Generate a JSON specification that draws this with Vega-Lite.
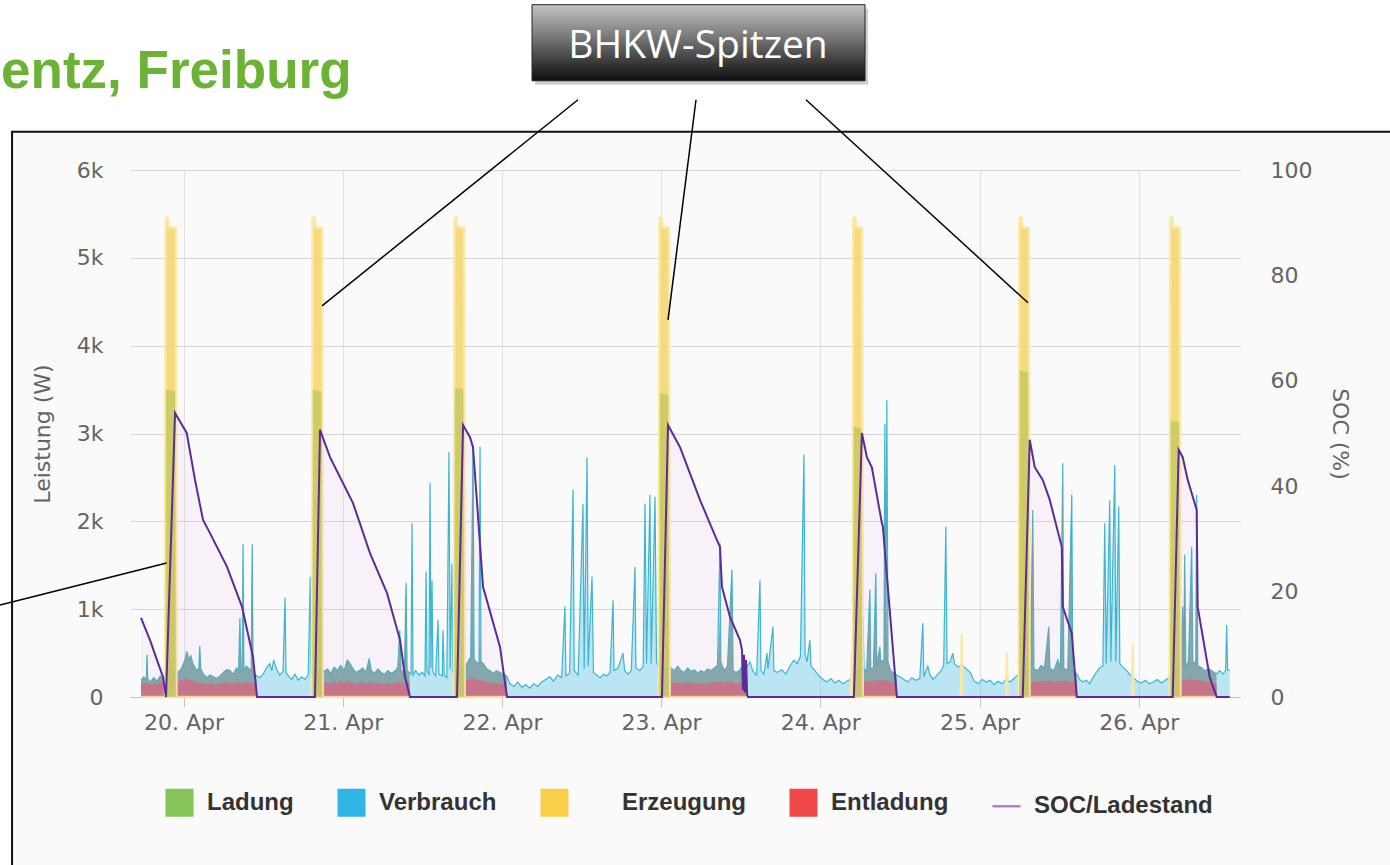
{
"$schema": "https://vega.github.io/schema/vega-lite/v6.json",
"width": 1110,
"height": 527,
"autosize": {"type": "none"},
"padding": {"left": 130, "top": 170, "right": 150, "bottom": 168},
"background": "white",
"config": {"view": {"stroke": null}, "font": "DejaVu Sans"},
"datasets": {
"verb": [
{"h":-6.41,"v":190},{"h":-6.0,"v":230},{"h":-5.6,"v":200},{"h":-5.5,"v":480},{"h":-5.4,"v":210},{"h":-5.0,"v":170},{"h":-4.5,"v":220},{"h":-4.0,"v":180},{"h":-3.5,"v":240},{"h":-3.0,"v":200},{"h":-2.8,"v":260},{"h":-2.5,"v":300},{"h":-2.0,"v":320},{"h":-1.5,"v":280},{"h":-1.1,"v":300},
{"h":-0.8,"v":280},{"h":-0.3,"v":330},{"h":0.2,"v":420},{"h":0.5,"v":520},{"h":0.8,"v":430},{"h":1.1,"v":470},{"h":1.4,"v":380},{"h":1.7,"v":340},{"h":2.0,"v":300},{"h":2.3,"v":330},{"h":2.45,"v":580},{"h":2.6,"v":320},{"h":3.0,"v":260},{"h":3.5,"v":220},{"h":4.0,"v":250},{"h":4.5,"v":230},{"h":5.0,"v":210},{"h":5.5,"v":240},{"h":6.0,"v":280},{"h":6.5,"v":310},{"h":7.0,"v":300},{"h":7.5,"v":260},{"h":8.0,"v":330},{"h":8.3,"v":290},{"h":8.5,"v":900},{"h":8.65,"v":300},{"h":8.85,"v":280},{"h":8.97,"v":1740},{"h":9.1,"v":320},{"h":9.5,"v":350},{"h":10.2,"v":300},{"h":10.35,"v":1740},{"h":10.5,"v":280},{"h":10.8,"v":250},{"h":11.1,"v":240},
{"h":11.5,"v":220},{"h":12.0,"v":260},{"h":12.5,"v":330},{"h":13.0,"v":380},{"h":13.3,"v":300},{"h":13.6,"v":420},{"h":14.0,"v":320},{"h":14.5,"v":250},{"h":15.0,"v":290},{"h":15.3,"v":1130},{"h":15.45,"v":280},{"h":15.8,"v":240},{"h":16.3,"v":200},{"h":16.8,"v":260},{"h":17.3,"v":190},{"h":17.8,"v":230},{"h":18.3,"v":200},{"h":18.8,"v":250},{"h":19.1,"v":1370},{"h":19.25,"v":260},{"h":19.5,"v":300},{"h":19.8,"v":320},{"h":20.3,"v":300},{"h":20.8,"v":310},
{"h":21.2,"v":290},{"h":21.7,"v":320},{"h":22.2,"v":270},{"h":22.7,"v":340},{"h":23.2,"v":300},{"h":23.7,"v":360},{"h":24.2,"v":300},{"h":24.7,"v":420},{"h":25.1,"v":380},{"h":25.5,"v":330},{"h":26.0,"v":280},{"h":26.5,"v":300},{"h":27.0,"v":330},{"h":27.5,"v":280},{"h":28.0,"v":440},{"h":28.3,"v":300},{"h":28.8,"v":270},{"h":29.3,"v":320},{"h":29.8,"v":280},{"h":30.3,"v":260},{"h":30.8,"v":300},{"h":31.3,"v":270},{"h":31.8,"v":290},{"h":32.3,"v":330},{"h":32.6,"v":760},{"h":32.8,"v":300},{"h":33.3,"v":280},{"h":33.55,"v":1300},{"h":33.7,"v":300},{"h":34.0,"v":280},{"h":34.3,"v":260},{"h":34.45,"v":1980},{"h":34.6,"v":250},
{"h":35.0,"v":300},{"h":35.5,"v":250},{"h":36.0,"v":280},{"h":36.4,"v":240},{"h":36.56,"v":1430},{"h":36.7,"v":300},{"h":37.0,"v":260},{"h":37.16,"v":2440},{"h":37.3,"v":330},{"h":37.46,"v":1330},{"h":37.6,"v":280},{"h":38.0,"v":240},{"h":38.37,"v":880},{"h":38.5,"v":260},{"h":39.0,"v":240},{"h":39.12,"v":760},{"h":39.3,"v":250},{"h":39.7,"v":220},{"h":40.02,"v":2790},{"h":40.2,"v":320},{"h":40.47,"v":1520},{"h":40.6,"v":280},{"h":40.9,"v":300},{"h":41.3,"v":320},{"h":41.8,"v":330},{"h":42.2,"v":300},
{"h":42.6,"v":350},{"h":43.0,"v":420},{"h":43.3,"v":450},{"h":43.64,"v":2870},{"h":43.8,"v":430},{"h":44.1,"v":400},{"h":44.55,"v":380},{"h":44.7,"v":2850},{"h":44.85,"v":400},{"h":45.2,"v":380},{"h":45.7,"v":320},{"h":46.2,"v":300},{"h":46.7,"v":270},{"h":47.2,"v":300},{"h":47.7,"v":280},{"h":48.2,"v":260},{"h":48.7,"v":240},
{"h":49.2,"v":150},{"h":49.8,"v":120},{"h":50.4,"v":170},{"h":51.0,"v":110},{"h":51.6,"v":140},{"h":52.2,"v":100},{"h":52.8,"v":150},{"h":53.4,"v":120},{"h":54.0,"v":170},{"h":54.6,"v":200},{"h":55.2,"v":230},{"h":55.8,"v":180},{"h":56.4,"v":250},{"h":57.0,"v":220},{"h":57.5,"v":1030},{"h":57.65,"v":240},{"h":58.2,"v":270},{"h":58.72,"v":2360},{"h":58.9,"v":300},{"h":59.5,"v":250},{"h":60.22,"v":2200},{"h":60.4,"v":320},{"h":60.83,"v":2730},{"h":61.0,"v":350},{"h":61.58,"v":1370},{"h":61.8,"v":280},{"h":62.3,"v":250},{"h":62.8,"v":220},{"h":63.3,"v":260},{"h":63.8,"v":240},{"h":64.3,"v":280},{"h":64.75,"v":1100},{"h":64.9,"v":300},{"h":65.5,"v":330},{"h":66.25,"v":500},{"h":66.5,"v":300},{"h":67.0,"v":260},{"h":67.5,"v":300},{"h":68.06,"v":1480},{"h":68.2,"v":330},{"h":68.8,"v":300},{"h":69.3,"v":350},{"h":69.57,"v":2200},{"h":69.8,"v":380},{"h":70.32,"v":2300},{"h":70.5,"v":380},{"h":71.08,"v":2280},{"h":71.3,"v":400},{"h":71.6,"v":350},{"h":71.9,"v":320},{"h":72.3,"v":330},{"h":72.8,"v":320},
{"h":73.5,"v":330},{"h":74.0,"v":300},{"h":74.5,"v":350},{"h":75.0,"v":300},{"h":75.5,"v":280},{"h":76.0,"v":330},{"h":76.5,"v":290},{"h":77.0,"v":310},{"h":77.5,"v":270},{"h":78.0,"v":300},{"h":78.5,"v":280},{"h":79.0,"v":320},{"h":79.5,"v":300},{"h":80.0,"v":330},{"h":80.5,"v":360},{"h":80.87,"v":1750},{"h":81.0,"v":400},{"h":81.5,"v":300},{"h":82.0,"v":350},{"h":82.68,"v":1450},{"h":82.85,"v":300},{"h":83.3,"v":280},{"h":83.8,"v":300},{"h":84.2,"v":350},{"h":84.6,"v":380},{"h":85.0,"v":350},
{"h":85.4,"v":400},{"h":85.8,"v":300},{"h":86.4,"v":250},{"h":86.9,"v":1330},{"h":87.05,"v":300},{"h":87.5,"v":260},{"h":87.96,"v":500},{"h":88.1,"v":320},{"h":88.86,"v":800},{"h":89.0,"v":300},{"h":89.5,"v":280},{"h":90.2,"v":310},{"h":90.8,"v":260},{"h":91.4,"v":350},{"h":92.0,"v":420},{"h":92.5,"v":380},{"h":93.0,"v":460},{"h":93.53,"v":2760},{"h":93.7,"v":480},{"h":94.0,"v":400},{"h":94.43,"v":650},{"h":94.6,"v":350},{"h":95.2,"v":300},{"h":95.8,"v":240},{"h":96.4,"v":200},{"h":97.0,"v":170},{"h":97.6,"v":210},{"h":98.2,"v":160},{"h":98.8,"v":190},{"h":99.4,"v":150},{"h":100.0,"v":180},{"h":100.5,"v":200},{"h":101.0,"v":260},{"h":101.5,"v":300},{"h":102.0,"v":300},
{"h":102.42,"v":910},{"h":102.6,"v":300},{"h":103.0,"v":320},{"h":103.47,"v":1220},{"h":103.6,"v":320},{"h":104.0,"v":330},{"h":104.37,"v":1410},{"h":104.5,"v":350},{"h":104.98,"v":570},{"h":105.1,"v":400},{"h":105.6,"v":420},{"h":105.73,"v":3110},{"h":105.85,"v":500},{"h":106.03,"v":3380},{"h":106.2,"v":400},{"h":106.6,"v":300},{"h":107.0,"v":280},{"h":107.5,"v":250},
{"h":108.0,"v":230},{"h":108.6,"v":200},{"h":109.2,"v":170},{"h":109.8,"v":220},{"h":110.4,"v":190},{"h":111.0,"v":210},{"h":111.45,"v":840},{"h":111.6,"v":230},{"h":112.2,"v":350},{"h":112.5,"v":260},{"h":113.0,"v":200},{"h":113.6,"v":250},{"h":114.2,"v":300},{"h":114.6,"v":360},{"h":114.92,"v":1940},{"h":115.1,"v":380},{"h":115.6,"v":400},{"h":115.97,"v":500},{"h":116.2,"v":380},{"h":116.8,"v":340},{"h":117.4,"v":360},{"h":118.0,"v":320},{"h":118.6,"v":280},{"h":119.2,"v":180},{"h":119.8,"v":150},{"h":120.4,"v":200},{"h":121.0,"v":170},{"h":121.6,"v":190},{"h":122.2,"v":140},{"h":122.8,"v":180},{"h":123.4,"v":150},{"h":124.0,"v":200},{"h":124.6,"v":170},{"h":125.2,"v":210},{"h":125.8,"v":250},{"h":126.5,"v":300},{"h":127.0,"v":300},
{"h":127.7,"v":300},{"h":128.03,"v":2130},{"h":128.2,"v":320},{"h":128.8,"v":300},{"h":129.3,"v":360},{"h":129.8,"v":330},{"h":130.44,"v":800},{"h":130.6,"v":330},{"h":131.2,"v":300},{"h":131.8,"v":420},{"h":132.2,"v":330},{"h":132.55,"v":2660},{"h":132.7,"v":330},{"h":133.3,"v":300},{"h":133.91,"v":2300},{"h":134.05,"v":300},{"h":134.4,"v":280},{"h":134.7,"v":260},
{"h":135.1,"v":200},{"h":135.6,"v":170},{"h":136.1,"v":190},{"h":136.6,"v":150},{"h":137.1,"v":220},{"h":137.6,"v":280},{"h":138.1,"v":330},{"h":138.6,"v":350},{"h":138.88,"v":1980},{"h":139.1,"v":380},{"h":139.63,"v":2240},{"h":139.8,"v":400},{"h":140.39,"v":2640},{"h":140.55,"v":400},{"h":140.99,"v":2170},{"h":141.15,"v":380},{"h":141.6,"v":340},{"h":142.2,"v":300},{"h":142.7,"v":250},{"h":143.2,"v":220},{"h":143.8,"v":180},{"h":144.4,"v":160},{"h":145.0,"v":190},{"h":145.6,"v":150},{"h":146.2,"v":170},{"h":146.8,"v":200},{"h":147.4,"v":160},{"h":148.0,"v":190},{"h":148.6,"v":220},{"h":149.3,"v":300},{"h":149.8,"v":300},
{"h":150.3,"v":350},{"h":150.63,"v":1030},{"h":150.8,"v":350},{"h":150.93,"v":1620},{"h":151.1,"v":350},{"h":151.5,"v":400},{"h":151.99,"v":1710},{"h":152.15,"v":400},{"h":152.6,"v":380},{"h":152.74,"v":2300},{"h":152.9,"v":360},{"h":153.5,"v":330},{"h":154.0,"v":300},{"h":154.6,"v":320},{"h":155.2,"v":290},{"h":155.7,"v":260},{"h":156.2,"v":300},{"h":156.7,"v":260},{"h":157.1,"v":300},{"h":157.26,"v":820},{"h":157.4,"v":310},{"h":157.72,"v":300}
],
"entl": [
{"h":-6.41,"v":190,"b":150},{"h":-6.0,"v":230,"b":160},{"h":-5.6,"v":200,"b":150},{"h":-5.5,"v":480,"b":170},{"h":-5.4,"v":210,"b":160},{"h":-5.0,"v":170,"b":140},{"h":-4.5,"v":220,"b":160},{"h":-4.0,"v":180,"b":150},{"h":-3.5,"v":240,"b":170},{"h":-3.0,"v":200,"b":150},{"h":-2.85,"v":200,"b":150},{"h":-2.75,"v":0,"b":0},
{"h":-1.15,"v":0,"b":0},{"h":-1.05,"v":280,"b":160},{"h":-0.8,"v":280,"b":170},{"h":-0.3,"v":330,"b":190},{"h":0.2,"v":420,"b":200},{"h":0.5,"v":520,"b":210},{"h":0.8,"v":430,"b":200},{"h":1.1,"v":470,"b":190},{"h":1.4,"v":380,"b":180},{"h":1.7,"v":340,"b":170},{"h":2.0,"v":300,"b":160},{"h":2.3,"v":330,"b":170},{"h":2.45,"v":580,"b":180},{"h":2.6,"v":320,"b":160},{"h":3.0,"v":260,"b":150},{"h":3.5,"v":220,"b":140},{"h":4.0,"v":250,"b":160},{"h":4.5,"v":230,"b":150},{"h":5.0,"v":210,"b":140},{"h":5.5,"v":240,"b":150},{"h":6.0,"v":280,"b":160},{"h":6.5,"v":310,"b":170},{"h":7.0,"v":300,"b":160},{"h":7.5,"v":260,"b":150},{"h":8.0,"v":330,"b":170},{"h":8.3,"v":290,"b":160},{"h":8.5,"v":900,"b":160},{"h":8.65,"v":300,"b":160},{"h":8.85,"v":280,"b":150},{"h":8.97,"v":1740,"b":160},{"h":9.1,"v":320,"b":160},{"h":9.5,"v":350,"b":170},{"h":10.2,"v":300,"b":160},{"h":10.35,"v":1740,"b":160},{"h":10.5,"v":280,"b":150},{"h":10.95,"v":250,"b":150},{"h":11.08,"v":0,"b":0},
{"h":20.85,"v":0,"b":0},{"h":20.95,"v":290,"b":160},{"h":21.7,"v":320,"b":170},{"h":22.2,"v":270,"b":150},{"h":22.7,"v":340,"b":170},{"h":23.2,"v":300,"b":160},{"h":23.7,"v":360,"b":180},{"h":24.2,"v":300,"b":160},{"h":24.7,"v":420,"b":180},{"h":25.1,"v":380,"b":170},{"h":25.5,"v":330,"b":160},{"h":26.0,"v":280,"b":150},{"h":26.5,"v":300,"b":160},{"h":27.0,"v":330,"b":170},{"h":27.5,"v":280,"b":150},{"h":28.0,"v":440,"b":170},{"h":28.3,"v":300,"b":160},{"h":28.8,"v":270,"b":150},{"h":29.3,"v":320,"b":160},{"h":29.8,"v":280,"b":150},{"h":30.3,"v":260,"b":150},{"h":30.8,"v":300,"b":160},{"h":31.3,"v":270,"b":150},{"h":31.8,"v":290,"b":160},{"h":32.3,"v":330,"b":170},{"h":32.6,"v":760,"b":170},{"h":32.8,"v":300,"b":160},{"h":33.3,"v":280,"b":150},{"h":33.55,"v":1300,"b":160},{"h":33.7,"v":300,"b":160},{"h":34.05,"v":280,"b":150},{"h":34.15,"v":0,"b":0},
{"h":42.25,"v":0,"b":0},{"h":42.35,"v":350,"b":180},{"h":43.0,"v":420,"b":200},{"h":43.3,"v":450,"b":210},{"h":43.64,"v":2870,"b":220},{"h":43.8,"v":430,"b":210},{"h":44.1,"v":400,"b":200},{"h":44.55,"v":380,"b":190},{"h":44.7,"v":700,"b":190},{"h":44.85,"v":400,"b":190},{"h":45.2,"v":380,"b":180},{"h":45.7,"v":320,"b":170},{"h":46.2,"v":300,"b":160},{"h":46.7,"v":270,"b":160},{"h":47.2,"v":300,"b":160},{"h":47.7,"v":280,"b":150},{"h":48.2,"v":260,"b":150},{"h":48.7,"v":240,"b":140},{"h":48.8,"v":0,"b":0},
{"h":73.15,"v":0,"b":0},{"h":73.25,"v":330,"b":170},{"h":74.0,"v":300,"b":160},{"h":74.5,"v":350,"b":170},{"h":75.0,"v":300,"b":160},{"h":75.5,"v":280,"b":150},{"h":76.0,"v":330,"b":170},{"h":76.5,"v":290,"b":160},{"h":77.0,"v":310,"b":160},{"h":77.5,"v":270,"b":150},{"h":78.0,"v":300,"b":160},{"h":78.5,"v":280,"b":150},{"h":79.0,"v":320,"b":160},{"h":79.5,"v":300,"b":160},{"h":80.0,"v":330,"b":170},{"h":80.5,"v":360,"b":170},{"h":80.87,"v":900,"b":170},{"h":81.0,"v":400,"b":170},{"h":81.5,"v":300,"b":160},{"h":82.0,"v":350,"b":170},{"h":82.68,"v":1450,"b":170},{"h":82.85,"v":300,"b":160},{"h":83.3,"v":280,"b":150},{"h":83.8,"v":300,"b":160},{"h":84.2,"v":350,"b":170},{"h":84.6,"v":380,"b":170},{"h":85.0,"v":350,"b":170},{"h":85.1,"v":0,"b":0},
{"h":102.25,"v":0,"b":0},{"h":102.35,"v":300,"b":170},{"h":102.42,"v":910,"b":170},{"h":102.6,"v":300,"b":170},{"h":103.0,"v":320,"b":180},{"h":103.47,"v":1220,"b":180},{"h":103.6,"v":320,"b":180},{"h":104.0,"v":330,"b":180},{"h":104.37,"v":1410,"b":190},{"h":104.5,"v":350,"b":190},{"h":104.98,"v":570,"b":190},{"h":105.1,"v":400,"b":190},{"h":105.6,"v":420,"b":190},{"h":105.73,"v":3110,"b":190},{"h":105.85,"v":500,"b":190},{"h":106.03,"v":1000,"b":190},{"h":106.2,"v":400,"b":180},{"h":106.6,"v":300,"b":170},{"h":107.0,"v":280,"b":160},{"h":107.5,"v":250,"b":150},{"h":107.6,"v":0,"b":0},
{"h":127.4,"v":0,"b":0},{"h":127.5,"v":300,"b":170},{"h":128.03,"v":2130,"b":170},{"h":128.2,"v":320,"b":170},{"h":128.8,"v":300,"b":170},{"h":129.3,"v":360,"b":180},{"h":129.8,"v":330,"b":180},{"h":130.44,"v":800,"b":180},{"h":130.6,"v":330,"b":180},{"h":131.2,"v":300,"b":170},{"h":131.8,"v":420,"b":180},{"h":132.2,"v":330,"b":180},{"h":132.55,"v":2660,"b":180},{"h":132.7,"v":330,"b":180},{"h":133.3,"v":300,"b":170},{"h":133.91,"v":2400,"b":170},{"h":134.05,"v":300,"b":170},{"h":134.4,"v":280,"b":160},{"h":134.65,"v":260,"b":150},{"h":134.75,"v":0,"b":0},
{"h":150.15,"v":0,"b":0},{"h":150.25,"v":350,"b":180},{"h":150.63,"v":1030,"b":190},{"h":150.8,"v":350,"b":190},{"h":150.93,"v":1620,"b":190},{"h":151.1,"v":350,"b":190},{"h":151.5,"v":400,"b":200},{"h":151.99,"v":1710,"b":200},{"h":152.15,"v":400,"b":200},{"h":152.6,"v":380,"b":190},{"h":152.74,"v":2360,"b":190},{"h":152.9,"v":360,"b":190},{"h":153.5,"v":330,"b":180},{"h":154.0,"v":300,"b":170},{"h":154.6,"v":320,"b":170},{"h":155.2,"v":290,"b":160},{"h":155.7,"v":260,"b":150},{"h":155.8,"v":0,"b":0},
{"h":157.72,"v":0,"b":0}
],
"lad": [
{"h":-6.41,"v":0},{"h":-2.75,"v":0},{"h":-2.65,"v":3500},{"h":-1.25,"v":3480},{"h":-1.15,"v":0},
{"h":19.4,"v":0},{"h":19.5,"v":3500},{"h":20.8,"v":3480},{"h":20.9,"v":0},
{"h":40.8,"v":0},{"h":40.9,"v":3520},{"h":42.2,"v":3500},{"h":42.3,"v":0},
{"h":71.7,"v":0},{"h":71.8,"v":3460},{"h":73.1,"v":3440},{"h":73.2,"v":0},
{"h":100.9,"v":0},{"h":101.0,"v":3080},{"h":102.2,"v":3060},{"h":102.3,"v":0},
{"h":125.95,"v":0},{"h":126.05,"v":3720},{"h":127.35,"v":3700},{"h":127.45,"v":0},
{"h":148.7,"v":0},{"h":148.8,"v":3150},{"h":150.1,"v":3130},{"h":150.2,"v":0},
{"h":157.72,"v":0}
],
"erz": [
{"h":-6.41,"v":0},{"h":-2.8,"v":0},{"h":-2.7,"v":5450},{"h":-2.4,"v":5460},{"h":-2.25,"v":5350},{"h":-1.15,"v":5340},{"h":-1.05,"v":0},
{"h":19.35,"v":0},{"h":19.45,"v":5450},{"h":19.75,"v":5460},{"h":19.9,"v":5350},{"h":20.9,"v":5340},{"h":21.0,"v":0},
{"h":40.75,"v":0},{"h":40.85,"v":5450},{"h":41.15,"v":5460},{"h":41.3,"v":5350},{"h":42.3,"v":5340},{"h":42.4,"v":0},
{"h":71.65,"v":0},{"h":71.75,"v":5450},{"h":72.05,"v":5460},{"h":72.2,"v":5350},{"h":73.2,"v":5340},{"h":73.3,"v":0},
{"h":100.6,"v":0},{"h":100.76,"v":530},{"h":100.85,"v":0},
{"h":100.9,"v":0},{"h":100.95,"v":5450},{"h":101.25,"v":5460},{"h":101.4,"v":5350},{"h":102.3,"v":5340},{"h":102.4,"v":0},
{"h":117.2,"v":0},{"h":117.33,"v":720},{"h":117.45,"v":0},
{"h":124.0,"v":0},{"h":124.11,"v":500},{"h":124.22,"v":0},
{"h":125.9,"v":0},{"h":126.0,"v":5450},{"h":126.3,"v":5460},{"h":126.45,"v":5350},{"h":127.45,"v":5340},{"h":127.55,"v":0},
{"h":143.0,"v":0},{"h":143.1,"v":610},{"h":143.2,"v":0},
{"h":148.65,"v":0},{"h":148.75,"v":5450},{"h":149.05,"v":5460},{"h":149.2,"v":5350},{"h":150.2,"v":5340},{"h":150.3,"v":0},
{"h":157.72,"v":0}
],
"soc": [
{"h":-6.41,"p":15.0},{"h":-5.05,"p":10.8},{"h":-4.0,"p":7.0},{"h":-3.09,"p":3.8},{"h":-2.64,"p":0},{"h":-1.28,"p":53.9},{"h":0.48,"p":50.1},{"h":1.73,"p":41.2},{"h":2.94,"p":33.6},{"h":3.99,"p":31.1},{"h":6.56,"p":24.7},{"h":8.82,"p":17.1},{"h":10.48,"p":7.6},{"h":11.08,"p":0},
{"h":19.82,"p":0},{"h":20.58,"p":50.7},{"h":22.08,"p":45.5},{"h":25.55,"p":36.8},{"h":28.11,"p":27.3},{"h":30.68,"p":19.7},{"h":32.64,"p":10.8},{"h":33.39,"p":3.8},{"h":34.14,"p":0},
{"h":41.23,"p":0},{"h":42.14,"p":51.6},{"h":43.19,"p":49.3},{"h":43.64,"p":47.4},{"h":44.4,"p":34.2},{"h":45.15,"p":20.9},{"h":47.71,"p":9.5},{"h":48.77,"p":0},
{"h":72.13,"p":0},{"h":73.04,"p":51.6},{"h":74.85,"p":47.4},{"h":77.86,"p":37.4},{"h":80.4,"p":29.8},{"h":80.87,"p":28.5},{"h":81.17,"p":20.9},{"h":82.38,"p":15.2},{"h":83.89,"p":10.8},{"h":84.19,"p":8.9},{"h":84.34,"p":1.3},{"h":84.49,"p":8.0},{"h":84.64,"p":0.9},{"h":84.8,"p":7.0},{"h":84.94,"p":0.6},{"h":85.09,"p":0},
{"h":101.06,"p":0},{"h":102.27,"p":50.1},{"h":103.02,"p":45.5},{"h":103.77,"p":43.6},{"h":105.28,"p":33.0},{"h":105.43,"p":32.3},{"h":107.54,"p":0},
{"h":126.52,"p":0},{"h":127.57,"p":48.8},{"h":128.33,"p":43.6},{"h":129.53,"p":41.2},{"h":130.59,"p":37.4},{"h":132.4,"p":28.5},{"h":132.55,"p":17.1},{"h":133.91,"p":12.1},{"h":134.66,"p":0},
{"h":149.13,"p":0},{"h":150.03,"p":46.9},{"h":150.63,"p":45.5},{"h":151.39,"p":41.2},{"h":152.74,"p":35.5},{"h":152.89,"p":17.1},{"h":154.7,"p":3.8},{"h":155.76,"p":0},{"h":157.72,"p":0}
],
"ann": [
{"h1":59.47,"w1":6800,"h2":20.88,"w2":4453},
{"h1":77.26,"w1":6800,"h2":73.04,"w2":4294},
{"h1":93.84,"w1":6800,"h2":127.31,"w2":4488},
{"h1":-27.66,"w1":1048,"h2":-2.54,"w2":1526}
],
"frame": [{"h1":-25.85,"h2":182.64,"w1":6435,"w2":-1970}],
"shadow": [{"h1":53.0,"h2":103.2,"w1":7837,"w2":6971}],
"box": [{"h1":52.54,"h2":102.74,"w1":7882,"w2":7016}],
"boxlabel": [{"h":77.56,"w":7278,"t":"BHKW-Spitzen"}],
"heading": [{"h":-27.5,"w":6936,"t":"entz, Freiburg"}],
"leg": [{"s":"Ladung"},{"s":"Verbrauch"},{"s":"Erzeugung"},{"s":"Entladung"},{"s":"SOC/Ladestand"}]
},
"encoding": {
"x": {"field": "h", "type": "quantitative", "title": null,
 "scale": {"domain": [-8.07, 159.27], "nice": false, "zero": false},
 "axis": {"values": [0, 24, 48, 72, 96, 120, 144], "labelExpr": "(20 + datum.value/24) + '. Apr'", "grid": true, "gridColor": "#e6e6e6", "tickColor": "#c8c8c8", "tickSize": 10, "domainColor": "#c8c8c8", "labelFontSize": 22, "labelColor": "#666666", "labelPadding": 5, "labelOverlap": false, "labelFlush": false}}
},
"layer": [
{
"encoding": {
"y": {"field": "v", "type": "quantitative", "title": "Leistung (W)",
 "scale": {"domain": [0, 6000], "nice": false, "zero": true},
 "axis": {"values": [0, 1000, 2000, 3000, 4000, 5000, 6000], "labelExpr": "datum.value == 0 ? '0' : (datum.value/1000) + 'k'", "grid": true, "gridColor": "#d9d9d9", "domain": false, "ticks": false, "labelPadding": 27, "labelFontSize": 22, "labelColor": "#666666", "labelOverlap": false, "titleX": -81, "titleY": 263.5, "titleAngle": -90, "titleAlign": "center", "titleBaseline": "alphabetic", "titleFontSize": 22, "titleFontWeight": "normal", "titleColor": "#666666"}}
},
"layer": [
{"data": {"name": "frame"}, "mark": {"type": "rect", "fill": "#000000", "fillOpacity": 0.018, "stroke": "#111111", "strokeWidth": 2},
 "encoding": {"x": {"field": "h1", "type": "quantitative", "title": null, "scale": {"domain": [-8.07, 159.27], "nice": false, "zero": false}}, "x2": {"field": "h2"}, "y": {"field": "w1", "type": "quantitative", "title": "Leistung (W)", "scale": {"domain": [0, 6000], "nice": false, "zero": true}}, "y2": {"field": "w2"}}},
{"data": {"name": "verb"}, "mark": {"type": "area", "fill": "#2cb5e2", "fillOpacity": 0.3, "line": {"color": "#3cb6d0", "strokeWidth": 1.2}}},
{"data": {"name": "entl"}, "mark": {"type": "area", "fill": "#759f9b", "fillOpacity": 0.85}},
{"data": {"name": "entl"}, "mark": {"type": "area", "fill": "#cc6d80", "fillOpacity": 0.9},
 "encoding": {"y": {"field": "b", "type": "quantitative", "title": "Leistung (W)", "scale": {"domain": [0, 6000], "nice": false, "zero": true}}}},
{"data": {"name": "erz"}, "mark": {"type": "area", "fill": "#f6d46a", "fillOpacity": 0.85, "stroke": "#fae8a5", "strokeWidth": 2.5, "strokeOpacity": 0.9}},
{"data": {"name": "lad"}, "mark": {"type": "area", "fill": "#9cba45", "fillOpacity": 0.45}},
{"data": {"name": "ann"}, "mark": {"type": "rule", "color": "#000000", "strokeWidth": 1.5},
 "encoding": {"x": {"field": "h1", "type": "quantitative", "title": null, "scale": {"domain": [-8.07, 159.27], "nice": false, "zero": false}}, "x2": {"field": "h2"}, "y": {"field": "w1", "type": "quantitative", "title": "Leistung (W)", "scale": {"domain": [0, 6000], "nice": false, "zero": true}}, "y2": {"field": "w2"}}},
{"data": {"name": "shadow"}, "mark": {"type": "rect", "fill": "#777777", "fillOpacity": 0.35},
 "encoding": {"x": {"field": "h1", "type": "quantitative", "title": null, "scale": {"domain": [-8.07, 159.27], "nice": false, "zero": false}}, "x2": {"field": "h2"}, "y": {"field": "w1", "type": "quantitative", "title": "Leistung (W)", "scale": {"domain": [0, 6000], "nice": false, "zero": true}}, "y2": {"field": "w2"}}},
{"data": {"name": "box"}, "mark": {"type": "rect", "fill": {"gradient": "linear", "x1": 0, "y1": 0, "x2": 0, "y2": 1, "stops": [{"offset": 0, "color": "#c4c4c4"}, {"offset": 0.5, "color": "#6a6a6a"}, {"offset": 1, "color": "#0d0d0d"}]}, "stroke": "#222222", "strokeWidth": 1},
 "encoding": {"x": {"field": "h1", "type": "quantitative", "title": null, "scale": {"domain": [-8.07, 159.27], "nice": false, "zero": false}}, "x2": {"field": "h2"}, "y": {"field": "w1", "type": "quantitative", "title": "Leistung (W)", "scale": {"domain": [0, 6000], "nice": false, "zero": true}}, "y2": {"field": "w2"}}},
{"data": {"name": "boxlabel"}, "mark": {"type": "text", "font": "Open Sans", "fontSize": 39, "color": "#ffffff", "align": "center", "baseline": "alphabetic"},
 "encoding": {"x": {"field": "h", "type": "quantitative", "title": null, "scale": {"domain": [-8.07, 159.27], "nice": false, "zero": false}}, "y": {"field": "w", "type": "quantitative", "title": "Leistung (W)", "scale": {"domain": [0, 6000], "nice": false, "zero": true}}, "text": {"field": "t"}}},
{"data": {"name": "heading"}, "mark": {"type": "text", "font": "Liberation Sans", "fontSize": 53, "fontWeight": "bold", "color": "#6cb234", "align": "left", "baseline": "alphabetic"},
 "encoding": {"x": {"field": "h", "type": "quantitative", "title": null, "scale": {"domain": [-8.07, 159.27], "nice": false, "zero": false}}, "y": {"field": "w", "type": "quantitative", "title": "Leistung (W)", "scale": {"domain": [0, 6000], "nice": false, "zero": true}}, "text": {"field": "t"}}},
{"data": {"name": "leg"}, "mark": {"type": "point", "filled": true, "opacity": 0},
 "encoding": {"color": {"field": "s", "type": "nominal",
  "scale": {"domain": ["Ladung", "Verbrauch", "Erzeugung", "Entladung", "SOC/Ladestand"], "range": ["#85c55a", "#2fb5e6", "#f8cf48", "#f04848", "#a784d6"]},
  "legend": {"orient": "none", "legendX": 34, "legendY": 617, "direction": "horizontal", "title": null,
   "labelFont": "Liberation Sans", "labelFontSize": 24, "labelFontWeight": "bold", "labelColor": "#333333", "labelLimit": 400,
   "symbolSize": 784, "symbolType": "square", "labelOffset": 12, "columnPadding": 38, "symbolOpacity": 1,
   "encode": {
    "labels": {"update": {"dx": {"signal": "datum.value === 'Erzeugung' ? 40 : 0"}}},
    "symbols": {"update": {
     "shape": {"signal": "datum.value === 'SOC/Ladestand' ? 'stroke' : 'square'"},
     "fill": {"signal": "datum.value === 'SOC/Ladestand' ? 'transparent' : (datum.value === 'Ladung' ? '#85c55a' : datum.value === 'Verbrauch' ? '#2fb5e6' : datum.value === 'Erzeugung' ? '#f8cf48' : '#f04848')"},
     "stroke": {"signal": "datum.value === 'SOC/Ladestand' ? '#a784d6' : 'transparent'"},
     "strokeWidth": {"value": 2.5},
     "opacity": {"value": 1},
     "fillOpacity": {"value": 1}
   }}}}}}}
]
},
{"data": {"name": "soc"},
 "mark": {"type": "area", "fill": "#c08ad8", "fillOpacity": 0.07, "line": {"color": "#5b2c98", "strokeWidth": 2}},
 "encoding": {"y": {"field": "p", "type": "quantitative", "title": "SOC (%)",
  "scale": {"domain": [0, 100], "nice": false, "zero": true},
  "axis": {"orient": "right", "values": [0, 20, 40, 60, 80, 100], "grid": false, "domain": false, "ticks": false, "labelPadding": 30, "labelFontSize": 22, "labelColor": "#666666", "labelOverlap": false, "titleX": 92, "titleY": 263.5, "titleAngle": 90, "titleAlign": "center", "titleBaseline": "alphabetic", "titleFontSize": 22, "titleFontWeight": "normal", "titleColor": "#666666"}}}}
],
"resolve": {"scale": {"y": "independent"}}
}
